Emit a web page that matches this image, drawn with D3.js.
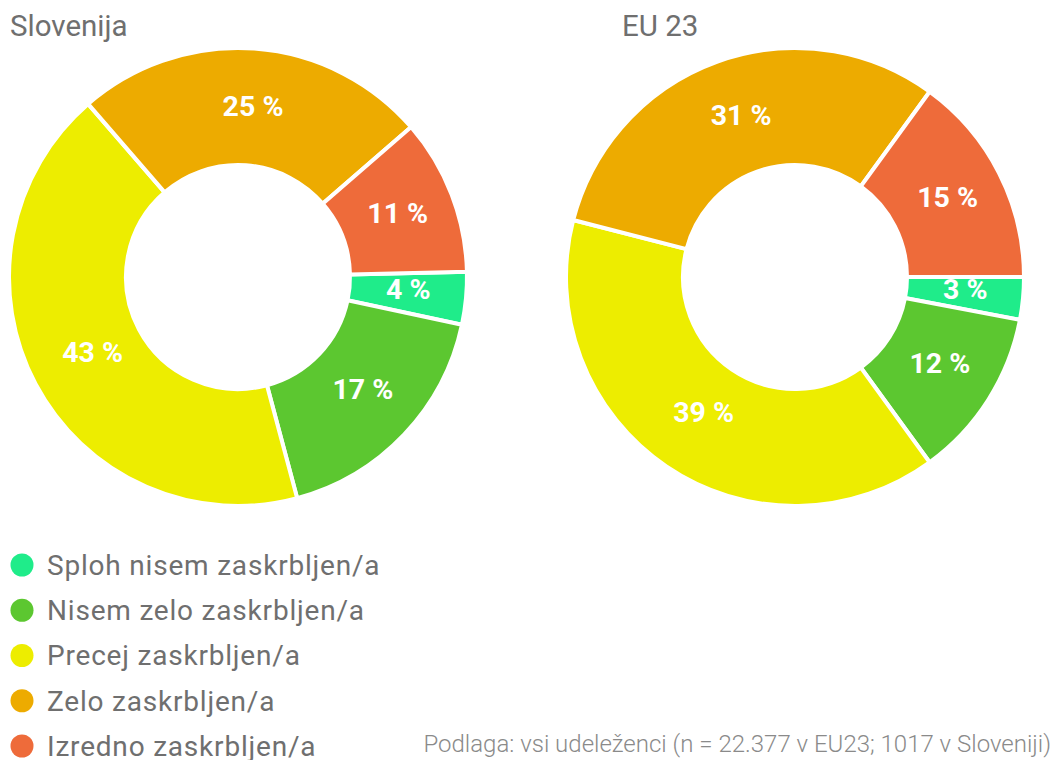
<!DOCTYPE html>
<html>
<head>
<meta charset="utf-8">
<script src="https://cdn.jsdelivr.net/npm/d3@7"></script>
<style>
  html, body { margin: 0; padding: 0; background: #fff; }
  svg { display: block; font-family: Roboto, "Noto Sans", sans-serif; }
</style>
</head>
<body>
<svg id="chart" width="1054" height="760"></svg>
<script>
// ---- data ----
const categories = ["Sploh nisem zaskrbljen/a", "Nisem zelo zaskrbljen/a", "Precej zaskrbljen/a", "Zelo zaskrbljen/a", "Izredno zaskrbljen/a"];
const colors = ["#1fec8a", "#5cc730", "#eded00", "#edab00", "#ee6b3a"];
const sloveniaValues = [3.7, 17.5, 42.8, 25.0, 11.0];
const sloveniaLabels = ["4 %", "17 %", "43 %", "25 %", "11 %"];
const euValues = [3, 12, 39, 31, 15];
const euLabels = ["3 %", "12 %", "39 %", "31 %", "15 %"];
const charts = [
  { title: "Slovenija", values: sloveniaValues, labels: sloveniaLabels, cx: 238, titleX: 10, startDeg: 88.7 },
  { title: "EU 23", values: euValues, labels: euLabels, cx: 795, titleX: 622, startDeg: 90 }
];
const footnote = "Podlaga: vsi udeleženci (n = 22.377 v EU23; 1017 v Sloveniji)";

// ---- layout ----
const svg = d3.select("#chart");
const cy = 277, outerR = 229, innerR = 112;
const textGray = "#6f6f6f";

charts.forEach(c => {
  const start = c.startDeg * Math.PI / 180;
  const pie = d3.pie().sort(null).value(d => d).startAngle(start).endAngle(start + 2 * Math.PI);
  const arcs = pie(c.values);
  const arc = d3.arc().innerRadius(innerR).outerRadius(outerR);
  const labelArc = d3.arc().innerRadius(112).outerRadius(224);
  const g = svg.append("g").attr("transform", `translate(${c.cx},${cy})`);
  g.selectAll("path").data(arcs).join("path")
    .attr("d", arc)
    .attr("fill", (d, i) => colors[i])
    .attr("stroke", "#fff")
    .attr("stroke-width", 4)
    .attr("stroke-linejoin", "miter");
  g.selectAll("text").data(arcs).join("text")
    .attr("transform", d => { const p = labelArc.centroid(d); return `translate(${p[0] + 3},${p[1] - 4})`; })
    .attr("text-anchor", "middle")
    .attr("dy", "0.36em")
    .attr("fill", "#fff")
    .attr("font-weight", 700)
    .attr("font-size", 28.5)
    .text((d, i) => c.labels[i]);
  svg.append("text")
    .attr("x", c.titleX).attr("y", 36)
    .attr("fill", textGray)
    .attr("font-size", 29.5)
    .text(c.title);
});

// legend
const legendY = d3.scalePoint().domain(categories).range([565, 746]);
const lg = svg.append("g");
const items = lg.selectAll("g").data(categories).join("g")
  .attr("transform", d => `translate(0,${legendY(d)})`);
items.append("circle").attr("cx", 22).attr("cy", 0).attr("r", 11.5)
  .attr("fill", (d, i) => colors[i]);
items.append("text").attr("x", 47).attr("y", 0).attr("dy", "0.35em")
  .attr("fill", textGray).attr("font-size", 28).attr("letter-spacing", 0.8).text(d => d);

// footnote
svg.append("text")
  .attr("x", 1051).attr("y", 752)
  .attr("text-anchor", "end")
  .attr("fill", "#8a8a8a")
  .attr("font-weight", 300)
  .attr("font-size", 24)
  .text(footnote);
</script>
</body>
</html>
